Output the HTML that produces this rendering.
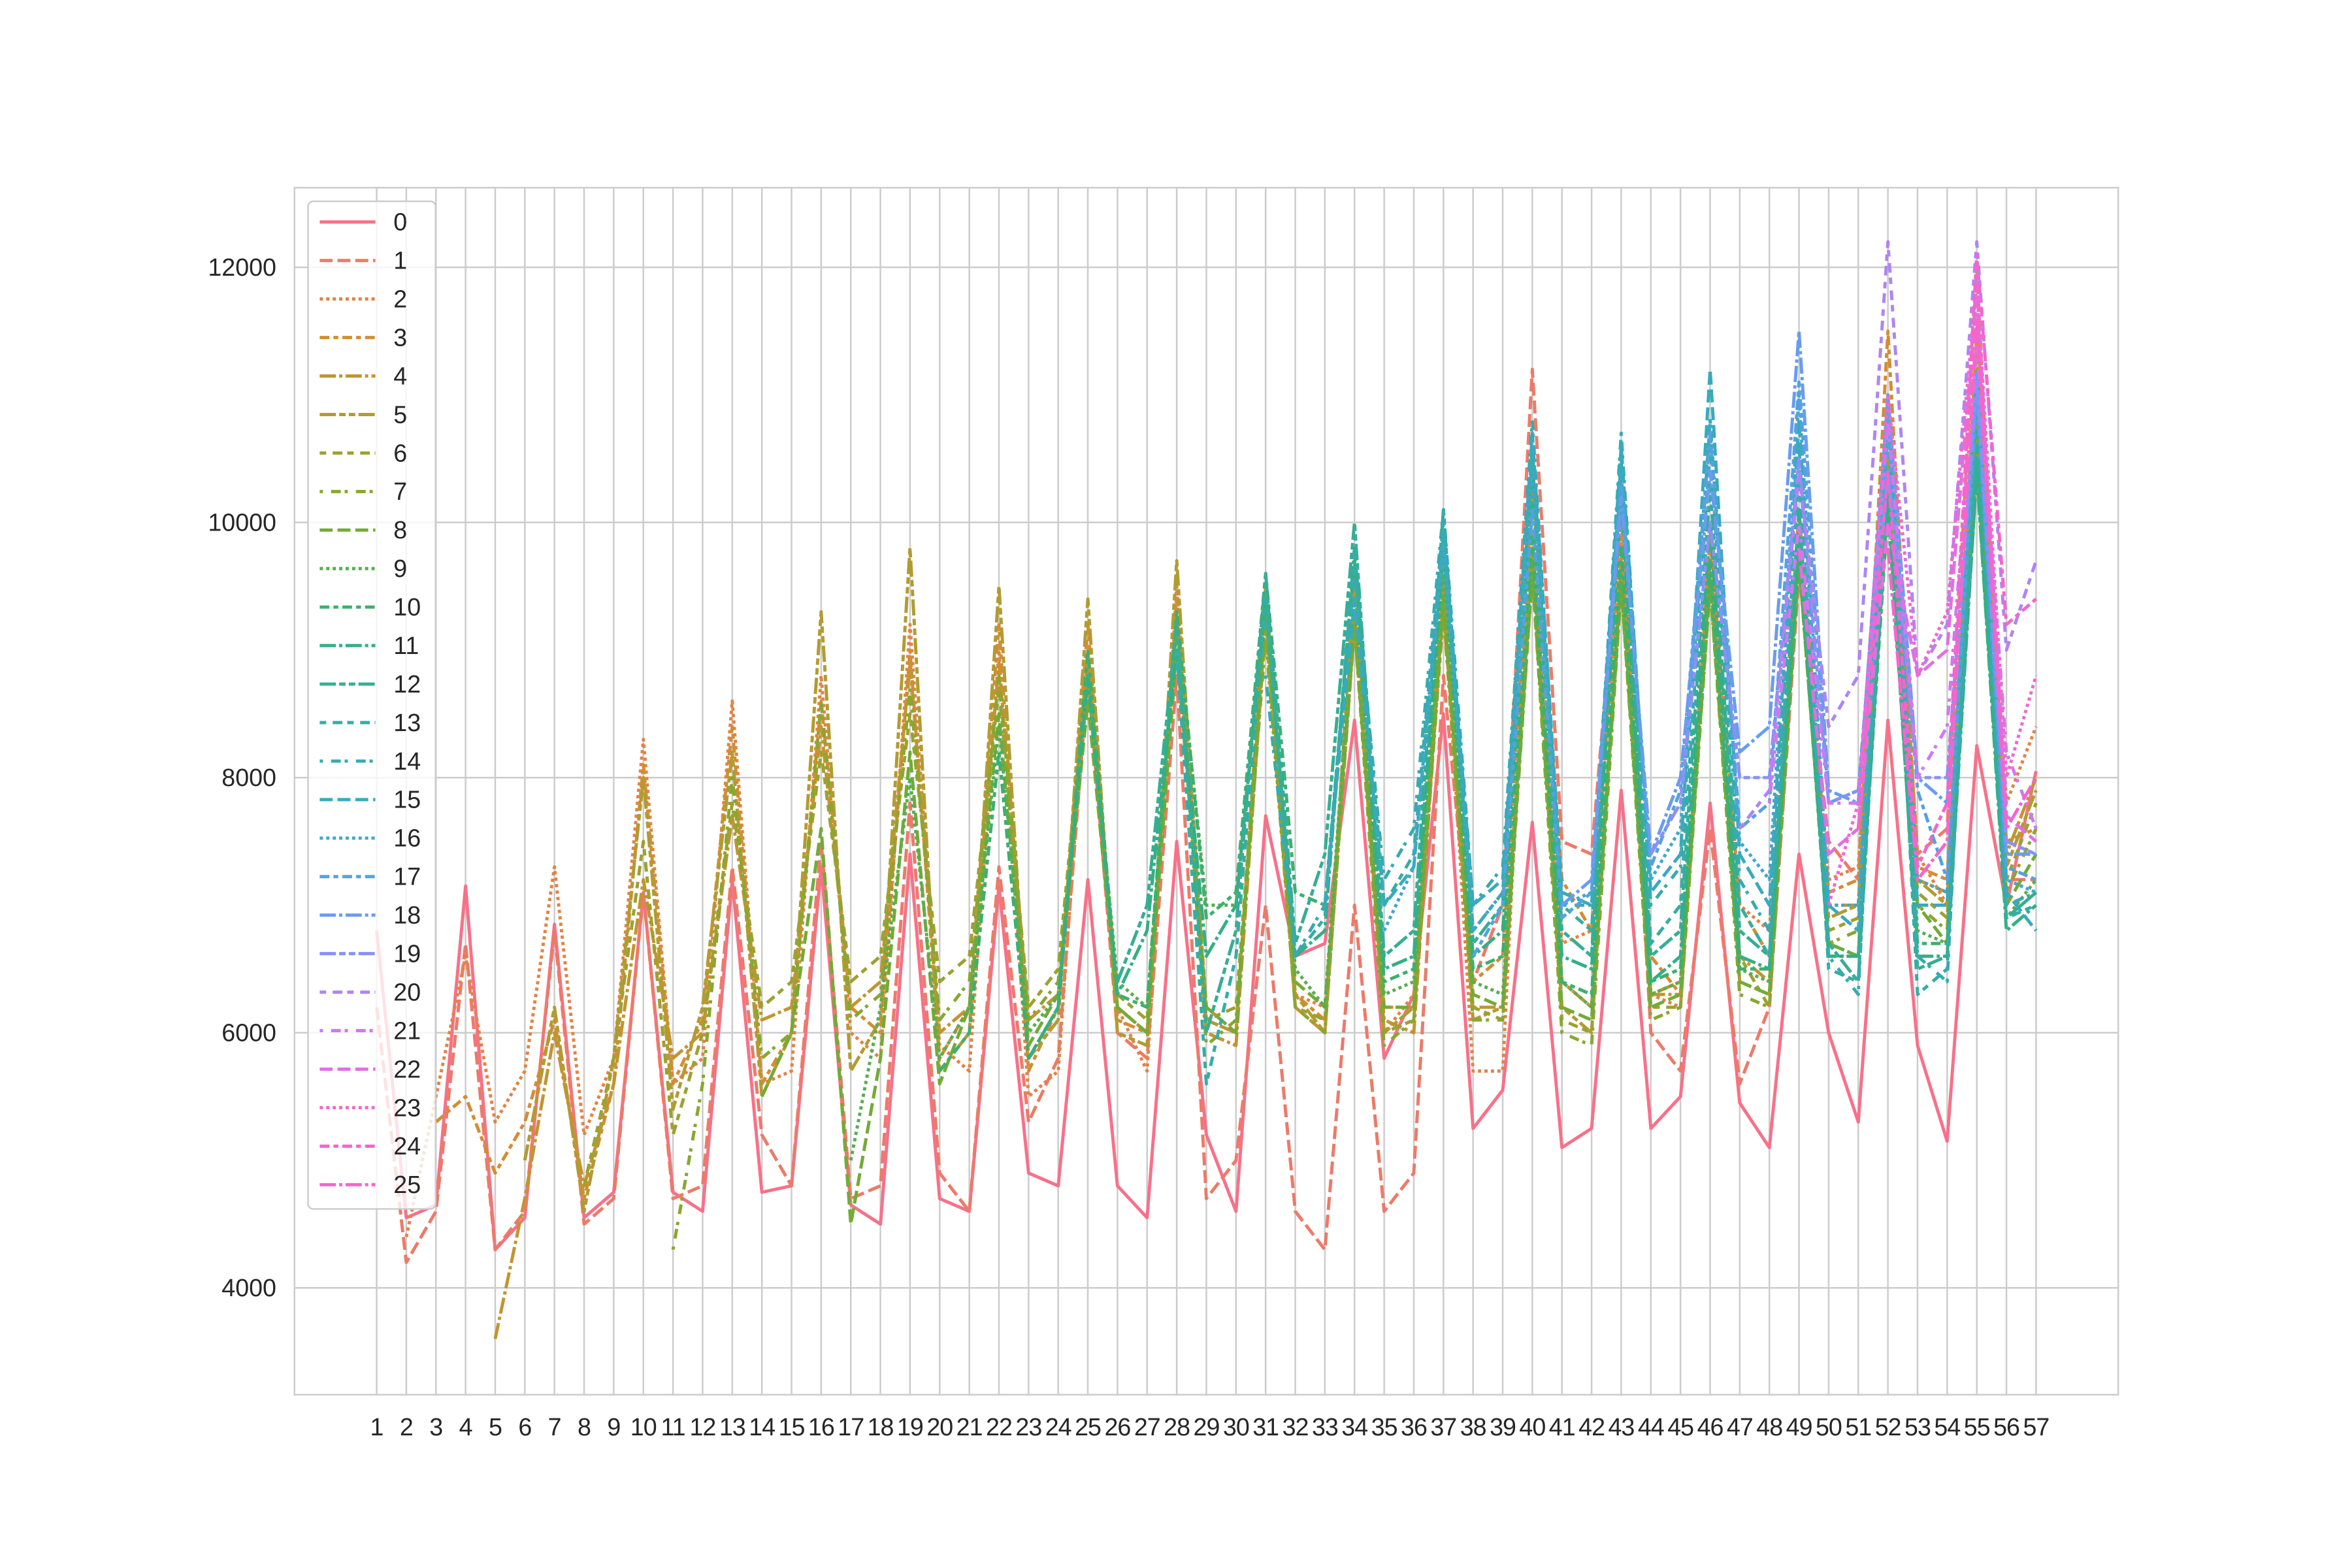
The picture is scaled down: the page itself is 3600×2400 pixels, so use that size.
<!DOCTYPE html>
<html><head><meta charset="utf-8">
<style>
html,body{margin:0;padding:0;background:#fff;}
svg{display:block;font-family:"Liberation Sans","DejaVu Sans",sans-serif;}
</style></head>
<body>
<svg id="chart" width="3600" height="2400" viewBox="0 0 3600 2400" xmlns="http://www.w3.org/2000/svg">
<rect x="0" y="0" width="3600" height="2400" fill="#fff"/>
<g transform="scale(0.9906)">
<g id="grid"></g>
<g id="series"></g>
<g id="axes"></g>
<g id="legend"></g>
</g>
</svg>
<script>
// ---- data (values in hundreds) ----
const categories = Array.from({length:57},(_, i)=>String(i+1));
const yTicks = [4000,6000,8000,10000,12000];
const seriesNames = ["0","1","2","3","4","5","6","7","8","9","10","11","12","13","14","15","16","17","18","19","20","21","22","23","24","25"];
const seriesStart = [1,1,2,3,5,6,8,11,14,17,20,23,26,28,31,33,35,38,41,44,47,48,49,50,51,52];
const s0 = [68,45.5,46.5,71.5,43,45.5,68.5,45.5,47.5,71,47.5,46,72,47.5,48,73,46.5,45,74,47,46,71.5,49,48,72,48,45.5,75,52,46,77,66,67,84.5,58,63,85,52.5,55.5,76.5,51,52.5,79,52.5,55,78,54.5,51,74,60,53,84.5,59,51.5,82.5,70,80.5];
const s1 = [62,42,46,67,43,46,68,45,47,71,47,48,73,52,48,75,47,48,78,49,46,73,53,58,88,60,58,88,47,50,70,46,43,70,46,49,88,64,70,112,75,74,101,60,57,76,56,62,96,75,72,110,74,76,120,72,72];
const s2 = [44,55,66,53,57,73,52,58,83,56,58,86,56,57,88,60,58,92,59,57,90,55,57,90,62,57,95,61,60,93,63,62,94,60,63,95,57,57,104,67,68,99,63,62,99,70,68,100,72,73,108,74,70,115,78,84];
const s3 = [53,55,49,53,61,47,56,81,56,61,84,56,60,86,62,60,90,58,62,92,57,62,92,61,60,94,62,60,94,63,61,93,62,62,93,64,66,103,72,68,98,66,63,99,70,66,101,71,72,115,73,72,114,75,76];
const s4 = [36,47,60,48,56,72,58,60,77,61,62,84,62,64,89,60,62,89,61,63,90,62,60,93,60,59,92,62,60,92,61,60,94,62,62,98,64,62,96,63,63,96,66,64,98,70,70,105,72,71,110,74,80];
const s5 = [50,62,46,58,80,54,62,82,55,60,93,57,61,98,57,60,95,58,61,94,60,59,97,61,60,95,63,60,96,60,62,96,61,62,99,62,60,97,63,64,97,64,63,99,69,70,106,72,70,112,73,79];
const s6 = [48,58,75,52,60,78,62,64,82,64,66,85,64,66,87,62,65,89,63,61,93,61,62,92,62,61,93,60,61,94,62,61,97,61,60,96,62,62,96,66,62,98,68,69,104,71,69,108,72,78];
const s7 = [43,56,80,58,60,86,61,63,87,61,64,88,61,64,88,62,60,92,59,61,91,62,60,92,59,61,93,61,61,96,60,59,95,61,62,95,63,62,97,67,68,103,70,68,107,71,76];
const s8 = [55,60,76,45,58,82,56,62,85,59,63,86,62,60,90,62,60,93,64,62,92,62,62,94,63,62,96,62,61,95,62,63,95,64,63,97,67,66,102,70,67,106,70,74];
const s9 = [50,62,80,58,62,84,60,63,88,64,62,92,70,70,95,65,62,94,63,64,96,64,63,97,64,62,96,63,64,96,65,64,97,67,66,102,68,67,105,69,72];
const s10 = [57,60,82,58,62,90,63,62,93,69,71,96,71,70,97,64,65,98,65,66,99,64,63,98,64,65,97,65,65,98,66,66,101,67,67,104,69,71];
const s11 = [58,62,88,63,68,90,66,70,94,66,68,98,65,66,99,66,68,103,66,65,102,64,66,100,66,65,99,66,66,102,66,66,104,68,70];
const s12 = [64,70,92,60,68,96,67,74,100,66,68,101,67,70,105,68,66,104,66,68,103,68,66,101,67,64,104,65,66,106,69,71];
const s13 = [90,56,66,94,66,69,98,70,74,100,68,71,106,70,68,105,67,70,106,70,66,104,65,64,108,63,65,108,69,70];
const s14 = [88,66,70,96,72,76,101,70,73,108,70,70,107,70,73,108,72,68,106,66,63,110,66,64,110,70,71];
const s15 = [70,94,70,73,99,70,72,107,71,70,106,71,74,112,74,70,108,70,68,110,70,70,112,71,68];
const s16 = [68,73,98,68,71,104,70,71,104,72,76,108,75,72,110,70,70,109,72,71,111,72,71];
const s17 = [66,70,101,69,71,103,73,79,107,76,78,111,78,79,107,79,72,110,73,72];
const s18 = [70,72,102,74,80,104,82,84,115,79,78,110,80,78,112,74,74];
const s19 = [74,78,100,80,80,105,78,79,104,80,80,111,75,74];
const s20 = [76,79,104,84,88,122,88,92,122,90,97];
const s21 = [78,100,78,78,108,80,84,114,82,76];
const s22 = [98,74,76,100,88,90,118,77,75];
const s23 = [70,78,110,88,93,119,80,88];
const s24 = [76,104,73,78,121,92,94];
const s25 = [98,72,75,116,76,80];
const seriesValues = [s0,s1,s2,s3,s4,s5,s6,s7,s8,s9,s10,s11,s12,s13,s14,s15,s16,s17,s18,s19,s20,s21,s22,s23,s24,s25];

// ---- layout ----
const NS = "http://www.w3.org/2000/svg";
const AX = {left:455, right:3273, top:290, bottom:2155};
const X0 = 582, X1 = 3146;
const Y_A = {v:4000, p:1990}, Y_B = {v:12000, p:413};
function xScale(i){ return X0 + (X1-X0)*(i-1)/56; }
function yScale(v){ return Y_A.p + (v - Y_A.v)*(Y_B.p - Y_A.p)/(Y_B.v - Y_A.v); }
function mk(tag, attrs, parent){ const e=document.createElementNS(NS,tag); for(const k in attrs) e.setAttribute(k,attrs[k]); parent.appendChild(e); return e; }

const anchors = ["#f77189","#dc8932","#ae9d31","#77ab31","#33b07a","#36ada4","#38a9c5","#6e9bf4","#cc7af4","#f565cc"];
function hex2rgb(h){return [1,3,5].map(i=>parseInt(h.substr(i,2),16));}
function colorFor(k){
  const t = k/25*9.6; const i=Math.min(8,Math.floor(t)); let f=t-i;
  const a=hex2rgb(anchors[i]), b=hex2rgb(anchors[Math.min(9,i+1)]);
  if(t>9){ return anchors[9]; }
  return "rgb("+a.map((c,j)=>Math.round(c+(b[j]-c)*f)).join(",")+")";
}
const dashList = [null,[4,1.5],[1,1],[3,1.25,1.5,1.25],[5,1,1,1],[5,1,2,1,2,1],[2,2,3,1.5],[1,2.5,3,1.2]];
const LW = 5;
function dashFor(k){ const d = k<8 ? dashList[k] : dashList[1+((k-8)%7)]; return d ? d.map(v=>v*LW).join(",") : "none"; }

const grid = document.getElementById("grid");
const axes = document.getElementById("axes");
yTicks.forEach(v=>{
  const y=yScale(v);
  const gl=mk("line",{x1:AX.left,x2:AX.right,y1:y,y2:y,stroke:"#cccccc","stroke-width":2.5},grid);
  
  
  const t=mk("text",{x:427,y:y+13,"text-anchor":"end","font-size":38,fill:"#262626"},axes);
  t.textContent=String(v);
  
  
});
categories.forEach((c,i)=>{
  const x=xScale(i+1);
  const gl=mk("line",{x1:x,x2:x,y1:AX.top,y2:AX.bottom,stroke:"#cccccc","stroke-width":2.5},grid);
  
  
  const t=mk("text",{x:x,y:2218,"text-anchor":"middle","font-size":38,"letter-spacing":"-1",fill:"#262626"},axes);
  t.textContent=c;
  
  
});
const frame=mk("rect",{x:AX.left,y:AX.top,width:AX.right-AX.left,height:AX.bottom-AX.top,fill:"none",stroke:"#cccccc","stroke-width":2.5},axes);



const sg=document.getElementById("series");
seriesValues.forEach((vals,k)=>{
  const st=seriesStart[k];
  const pts=vals.map((v,j)=>xScale(st+j).toFixed(1)+","+yScale(v*100).toFixed(1)).join(" ");
  const pl=mk("polyline",{points:pts,fill:"none",stroke:colorFor(k),"stroke-width":LW,"stroke-dasharray":dashFor(k),"stroke-linejoin":"round"},sg);
  
  
});

const lg=document.getElementById("legend");
const box=mk("rect",{x:476,y:311,width:197,height:1557,rx:8,fill:"#ffffff","fill-opacity":0.8,stroke:"#cccccc","stroke-width":2.5},lg);


seriesNames.forEach((n,k)=>{
  const y=343+k*59.5;
  const g=mk("g",{},lg);
  
  
  mk("line",{x1:494,x2:580,y1:y,y2:y,stroke:colorFor(k),"stroke-width":LW,"stroke-dasharray":dashFor(k)},g);
  const t=mk("text",{x:608,y:y+13,"font-size":38,fill:"#262626"},g);
  t.textContent=n;
});
</script>
</body></html>
